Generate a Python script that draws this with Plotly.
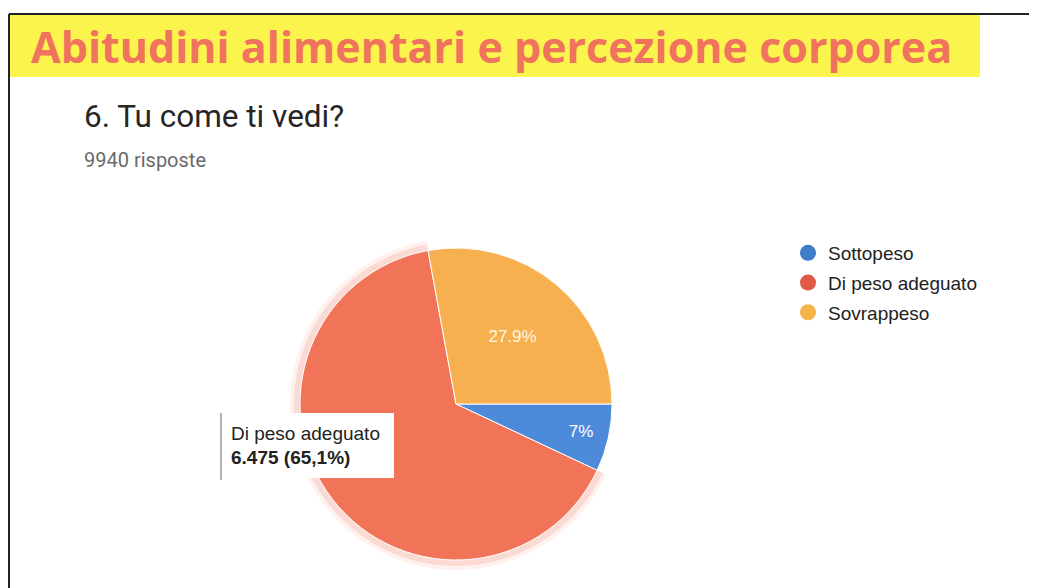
import plotly.graph_objects as go

# page body has an 8px default margin; the figure fills the rest of the window
OFF = 8
W, H = 1037 - OFF, 588 - OFF

# ---- data ----
categories = ["Sottopeso", "Di peso adeguato", "Sovrappeso"]
counts = [695, 6475, 2770]
slice_colors = ["#4d8ad9", "#f17358", "#f6b04f"]
legend_colors = ["#3f7dc8", "#e05a47", "#f5b247"]
banner_title = "Abitudini alimentari e percezione corporea"
question = "6. Tu come ti vedi?"
responses_text = "9940 risposte"
tooltip_label = "Di peso adeguato"
tooltip_value = "6.475 (65,1%)"

total = sum(counts)


def pct_label(v):
    s = f"{100 * v / total:.1f}".rstrip("0").rstrip(".")
    return s + "%"


slice_text = [pct_label(v) for v in counts]


def px(x):
    return (x - OFF) / W


def py(y):
    return 1 - (y - OFF) / H


# pie geometry (window pixels)
cx, cy, r = 456, 404, 156

fig = go.Figure()

# soft glow behind highlighted slice
for g, a in [(10, 0.10), (6, 0.18)]:
    fig.add_trace(go.Pie(
        labels=categories, values=counts, sort=False, direction="clockwise",
        rotation=90,
        marker=dict(colors=["rgba(0,0,0,0)", f"rgba(241,115,88,{a})", "rgba(0,0,0,0)"],
                    line=dict(width=0)),
        textinfo="none", hoverinfo="skip", showlegend=False,
        domain=dict(x=[px(cx - r - g), px(cx + r + g)],
                    y=[py(cy + r + g), py(cy - r - g)]),
    ))

fig.add_trace(go.Pie(
    labels=categories, values=counts, sort=False, direction="clockwise",
    rotation=90,
    marker=dict(colors=slice_colors, line=dict(color="white", width=1)),
    text=slice_text, textinfo="text", textposition="inside",
    insidetextorientation="horizontal",
    textfont=dict(family="Liberation Sans, Arial", size=17,
                  color=["white", "rgba(0,0,0,0)", "#fff6e0"]),
    showlegend=False,
    domain=dict(x=[px(cx - r), px(cx + r)], y=[py(cy + r), py(cy - r)]),
))

# legend entries (circle markers)
for i, (name, col) in enumerate(zip(categories, legend_colors)):
    fig.add_trace(go.Scatter(
        x=[None], y=[None], mode="markers", name=name,
        marker=dict(color=col, size=16, symbol="circle"),
        legendgroup=f"g{i}", showlegend=True,
    ))

shapes = [
    # yellow banner
    dict(type="rect", xref="paper", yref="paper",
         x0=px(10), x1=px(980), y0=py(77), y1=py(15),
         fillcolor="#fbf44c", line=dict(width=0), layer="below"),
    # scan border lines
    dict(type="line", xref="paper", yref="paper",
         x0=px(9), x1=1, y0=py(14), y1=py(14),
         line=dict(color="#222222", width=2)),
    dict(type="line", xref="paper", yref="paper",
         x0=px(9), x1=px(9), y0=py(14), y1=0,
         line=dict(color="#222222", width=2)),
    # tooltip left edge
    dict(type="line", xref="paper", yref="paper",
         x0=px(221), x1=px(221), y0=py(413), y1=py(480),
         line=dict(color="#9a9a9a", width=1.5)),
]

annotations = [
    dict(text=f"<b>{banner_title}</b>", xref="paper", yref="paper",
         x=px(29), y=py(46), xanchor="left", yanchor="middle", showarrow=False,
         font=dict(family="Open Sans", size=43, color="#f0735e")),
    dict(text=question, xref="paper", yref="paper",
         x=px(82), y=py(116), xanchor="left", yanchor="middle", showarrow=False,
         font=dict(family="Roboto", size=31.5, color="#262626")),
    dict(text=responses_text, xref="paper", yref="paper",
         x=px(82), y=py(160), xanchor="left", yanchor="middle", showarrow=False,
         font=dict(family="Roboto", size=20, color="#6a6a6a")),
    dict(text=f"{tooltip_label}<br><b>{tooltip_value}</b>",
         xref="paper", yref="paper",
         x=px(222), y=py(413), xanchor="left", yanchor="top", showarrow=False,
         align="left", valign="middle", width=154, height=47, borderpad=9,
         bgcolor="white", borderwidth=0,
         font=dict(family="Liberation Sans, Arial", size=19, color="#222222")),
]

fig.update_layout(
    width=W, height=H,
    margin=dict(l=0, r=0, t=0, b=0),
    paper_bgcolor="white", plot_bgcolor="white",
    xaxis=dict(visible=False), yaxis=dict(visible=False),
    shapes=shapes, annotations=annotations,
    legend=dict(x=px(788), y=py(234), xanchor="left", yanchor="top",
                bgcolor="rgba(0,0,0,0)", tracegroupgap=2,
                font=dict(family="Liberation Sans, Arial", size=19, color="#222222"),
                itemsizing="trace"),
    hovermode=False,
)

fig.write_html("out.html")
